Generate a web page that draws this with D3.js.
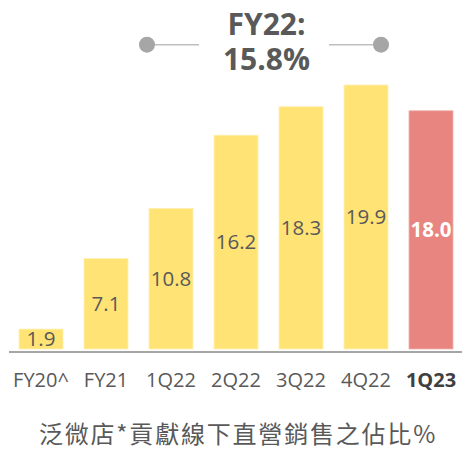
<!DOCTYPE html>
<html>
<head>
<meta charset="utf-8">
<script src="https://cdn.jsdelivr.net/npm/d3@7"></script>
<style>
  body { margin: 0; background: #fff; }
  svg { display: block; }
</style>
</head>
<body>
<div id="chart"></div>
<script>
// categories and values
var categories = ["FY20^", "FY21", "1Q22", "2Q22", "3Q22", "4Q22", "1Q23"];
var values = [1.9, 7.1, 10.8, 16.2, 18.3, 19.9, 18.0];
var highlight = "1Q23";
var titleLines = ["FY22:", "15.8%"];
var caption = "泛微店*貢獻線下直營銷售之佔比%";

var width = 462;
var height = 450;
var baseY = 349;
var latin = "'Open Sans', 'Noto Sans', sans-serif";

var svg = d3.select("#chart").append("svg")
  .attr("width", width).attr("height", height);

// x band scale
var x = d3.scaleBand()
  .domain(categories)
  .range([8.5, 463.5])
  .paddingInner(0.323)
  .paddingOuter(0.1615);

// y scale (chart baseline sits a bit above zero)
var y = d3.scaleLinear()
  .domain([0.43, 19.9])
  .range([baseY, 85]);

// bars
svg.selectAll("rect.bar").data(values).enter()
  .append("rect")
  .attr("class", "bar")
  .attr("x", function(d, i) { return x(categories[i]); })
  .attr("y", function(d) { return y(d); })
  .attr("width", x.bandwidth())
  .attr("height", function(d) { return baseY - y(d); })
  .attr("fill", function(d, i) { return categories[i] === highlight ? "#e88581" : "#ffe375"; })
  .attr("stroke", function(d, i) { return categories[i] === highlight ? "#f0b3b0" : "#fff0b5"; })
  .attr("stroke-width", 0.8);

// value labels centered in bars
svg.selectAll("text.val").data(values).enter()
  .append("text")
  .attr("class", "val")
  .attr("x", function(d, i) { return x(categories[i]) + x.bandwidth() / 2; })
  .attr("y", function(d) { return (y(d) + baseY) / 2 + 7; })
  .attr("text-anchor", "middle")
  .attr("font-family", latin)
  .attr("font-size", 20.5)
  .attr("font-weight", function(d, i) { return categories[i] === highlight ? "bold" : "normal"; })
  .attr("fill", function(d, i) { return categories[i] === highlight ? "#ffffff" : "#595959"; })
  .text(function(d) { return d.toFixed(1); });

// x axis
var xAxis = d3.axisBottom(x).tickSize(0).tickPadding(0);
var gx = svg.append("g")
  .attr("transform", "translate(0," + 352 + ")")
  .call(xAxis);
gx.select(".domain").attr("stroke", "#a6a6a6").attr("stroke-width", 2)
  .attr("d", "M9,0H462");
gx.selectAll("text")
  .attr("y", 35)
  .attr("dy", 0)
  .attr("font-family", latin)
  .attr("font-size", 20)
  .attr("fill", function(d) { return d === highlight ? "#404040" : "#595959"; })
  .attr("font-weight", function(d) { return d === highlight ? "bold" : "normal"; });

// title with decorations
var deco = svg.append("g");
deco.append("line").attr("x1", 147).attr("x2", 199).attr("y1", 44.7).attr("y2", 44.7)
  .attr("stroke", "#bfbfbf").attr("stroke-width", 1.5);
deco.append("line").attr("x1", 329).attr("x2", 381).attr("y1", 44.7).attr("y2", 44.7)
  .attr("stroke", "#bfbfbf").attr("stroke-width", 1.5);
deco.append("circle").attr("cx", 147).attr("cy", 44.7).attr("r", 8).attr("fill", "#a6a6a6");
deco.append("circle").attr("cx", 381).attr("cy", 44.7).attr("r", 8).attr("fill", "#a6a6a6");

svg.selectAll("text.title").data(titleLines).enter()
  .append("text")
  .attr("class", "title")
  .attr("x", 266.5)
  .attr("y", function(d, i) { return 35 + i * 35; })
  .attr("text-anchor", "middle")
  .attr("font-family", latin)
  .attr("font-size", 30)
  .attr("font-weight", "bold")
  .attr("fill", "#595959")
  .text(function(d) { return d; });

// caption
svg.append("text")
  .attr("x", 238)
  .attr("y", 443)
  .attr("text-anchor", "middle")
  .attr("font-family", "'Noto Sans CJK TC', 'Noto Sans CJK SC', sans-serif")
  .attr("font-size", 24)
  .attr("letter-spacing", 1.8)
  .attr("fill", "#595959")
  .text(caption);
</script>
</body>
</html>
